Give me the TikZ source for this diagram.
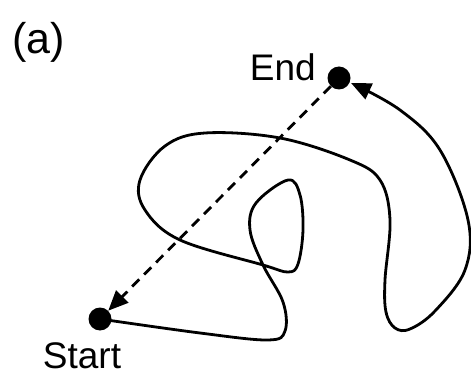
\documentclass[tikz,border=0pt]{standalone}
\usepackage{fontspec}
\setmainfont{Liberation Sans}
\usetikzlibrary{arrows.meta}
\begin{document}
\begin{tikzpicture}[x=1pt,y=-1pt,
  dot/.style={circle,fill=black,inner sep=0pt,minimum size=23pt},
  lbl/.style={inner sep=0pt,font=\fontsize{37}{40}\selectfont},
  route/.style={line width=2.8pt,line join=round},
  tip/.style={-{Triangle[length=20pt,width=17pt]}}]
\useasboundingbox (0,0) rectangle (471,379);
\node[inner sep=0pt,anchor=base west,font=\fontsize{43}{46}\selectfont] (lab) at (12,54) {(a)};
\node[dot] (S) at (100,319) {};
\node[dot] (E) at (339,78) {};
\node[lbl,anchor=base east] (endlbl) at (316,81) {End};
\node[lbl,anchor=base] (startlbl) at (82,368) {Start};
\draw[route,dashed,dash pattern=on 10pt off 7pt,tip] (E) -- (S);
\draw[route,tip] plot[smooth,tension=0.6] coordinates {
 (S.center) (200,333) (268,340) (285,331) (283,302) (263,265) (250,230) (256,203)
 (288,180) (300,195) (303,230) (298,264) (288,272) (263,265) (180,240) (145,210)
 (140,180) (165,146) (205,133) (280,138) (350,160) (380,180) (390,220) (385,280)
 (386,312) (395,328) (410,329) (435,311) (465,270) (468,220) (440,150) (400,110) (351,83)};
\end{tikzpicture}
\end{document}
